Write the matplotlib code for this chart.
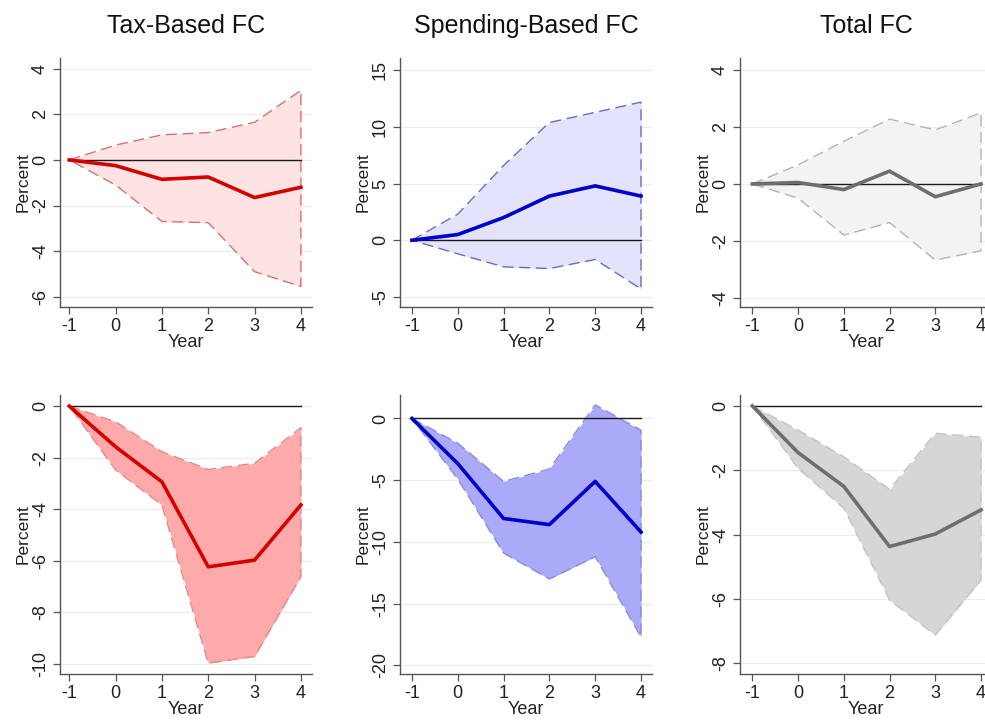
import numpy as np
import matplotlib
matplotlib.use("Agg")
import matplotlib.pyplot as plt

plt.rcParams['font.family'] = ['Liberation Sans', 'DejaVu Sans']
plt.rcParams['axes.unicode_minus'] = False

years = [-1, 0, 1, 2, 3, 4]
titles = ["Tax-Based FC", "Spending-Based FC", "Total FC"]

# Top row responses: point estimate, upper and lower bands
tax_top = [0, -0.25, -0.85, -0.75, -1.65, -1.2]
tax_top_hi = [0, 0.65, 1.1, 1.2, 1.65, 3.05]
tax_top_lo = [0, -1.1, -2.7, -2.75, -4.9, -5.55]

spend_top = [0, 0.5, 2.0, 3.9, 4.8, 3.9]
spend_top_hi = [0, 2.3, 6.6, 10.4, 11.3, 12.2]
spend_top_lo = [0, -1.2, -2.35, -2.5, -1.7, -4.3]

total_top = [0, 0.05, -0.2, 0.45, -0.45, 0.0]
total_top_hi = [0, 0.67, 1.5, 2.28, 1.9, 2.5]
total_top_lo = [0, -0.5, -1.8, -1.36, -2.68, -2.35]

# Bottom row responses
tax_bot = [0, -1.58, -2.94, -6.24, -5.98, -3.84]
tax_bot_hi = [0, -0.61, -1.77, -2.46, -2.22, -0.84]
tax_bot_lo = [0, -2.48, -3.84, -9.98, -9.72, -6.62]

spend_bot = [0, -3.65, -8.1, -8.6, -5.1, -9.2]
spend_bot_hi = [0, -2.0, -5.1, -4.1, 1.1, -0.95]
spend_bot_lo = [0, -4.9, -10.9, -13.0, -11.2, -17.7]

total_bot = [0, -1.45, -2.5, -4.37, -3.98, -3.23]
total_bot_hi = [0, -0.75, -1.58, -2.59, -0.85, -0.97]
total_bot_lo = [0, -1.94, -3.18, -6.03, -7.12, -5.41]

top_ticks = [[-6, -4, -2, 0, 2, 4], [-5, 0, 5, 10, 15], [-4, -2, 0, 2, 4]]
bot_ticks = [[-10, -8, -6, -4, -2, 0], [-20, -15, -10, -5, 0], [-8, -6, -4, -2, 0]]
top_ylim = [(-6.45, 4.47), (-5.9, 16.1), (-4.33, 4.43)]
bot_ylim = [(-10.4, 0.43), (-20.7, 1.9), (-8.33, 0.34)]

line_colors = ["#d40000", "#0000cc", "#6e6e6e"]
top_fill = ["#fde3e3", "#e3e3fb", "#f3f3f3"]
top_edge = ["#d87070", "#6a6ac8", "#b4b4b4"]
bot_fill = ["#ffaaaa", "#aaaaf8", "#d6d6d6"]
bot_edge = ["#e08a8a", "#8a8ad8", "#c4c4c4"]

top_data = [(tax_top, tax_top_hi, tax_top_lo),
            (spend_top, spend_top_hi, spend_top_lo),
            (total_top, total_top_hi, total_top_lo)]
bot_data = [(tax_bot, tax_bot_hi, tax_bot_lo),
            (spend_bot, spend_bot_hi, spend_bot_lo),
            (total_bot, total_bot_hi, total_bot_lo)]

W, H = 985, 722
fig = plt.figure(figsize=(W / 100, H / 100), dpi=100)

col_left = [60, 400, 740]
col_xlim = [(-1.2, 4.24), (-1.26, 4.24), (-1.27, 4.24)]
row_box = [(58, 307), (395, 674)]  # top, bottom in pixels


def draw(ax, est, hi, lo, ticks, ylim, xlim, lc, fc, ec):
    x = np.array(years, dtype=float)
    hi = np.array(hi, dtype=float)
    lo = np.array(lo, dtype=float)
    for t in ticks:
        ax.axhline(t, color="#e8eef0", lw=0.9, zorder=0)
    ax.fill_between(x, lo, hi, color=fc, lw=0, zorder=1)
    outline_x = np.concatenate([x, x[::-1]])
    outline_y = np.concatenate([hi, lo[::-1]])
    ax.plot(outline_x, outline_y, color=ec, lw=1.0, ls=(0, (8, 4)), zorder=2)
    ax.plot([x[0], x[-1]], [0, 0], color="#1a1a1a", lw=1.0, zorder=3)
    ax.plot(x, est, color=lc, lw=2.6, zorder=4, solid_joinstyle="round")
    ax.set_xlim(*xlim)
    ax.set_ylim(*ylim)
    ax.set_xticks(years)
    ax.set_yticks(ticks)
    ax.set_yticklabels([str(t) for t in ticks], rotation=90, va="center")
    for s in ["top", "right"]:
        ax.spines[s].set_visible(False)
    for s in ["left", "bottom"]:
        ax.spines[s].set_color("#555555")
        ax.spines[s].set_linewidth(1.0)
    ax.tick_params(axis="both", direction="out", length=5, width=0.9,
                   color="#555555", labelsize=13, labelcolor="#222222", pad=3)
    ax.set_xlabel("Year", fontsize=13, labelpad=-1, color="#222222")
    ax.set_ylabel("Percent", fontsize=12.5, labelpad=1, color="#222222")


for r, (rows, fills, edges, ticks_row, ylims) in enumerate(
        [(top_data, top_fill, top_edge, top_ticks, top_ylim),
         (bot_data, bot_fill, bot_edge, bot_ticks, bot_ylim)]):
    top_px, bot_px = row_box[r]
    for c in range(3):
        left = col_left[c] / W
        width = 252 / W
        bottom = 1 - bot_px / H
        height = (bot_px - top_px) / H
        ax = fig.add_axes([left, bottom, width, height])
        est, hi, lo = rows[c]
        draw(ax, est, hi, lo, ticks_row[c], ylims[c], col_xlim[c],
             line_colors[c], fills[c], edges[c])
        if r == 0:
            ax.set_title(titles[c], fontsize=18, color="#111111", pad=18)

fig.savefig("out.png", dpi=100, facecolor="white")
